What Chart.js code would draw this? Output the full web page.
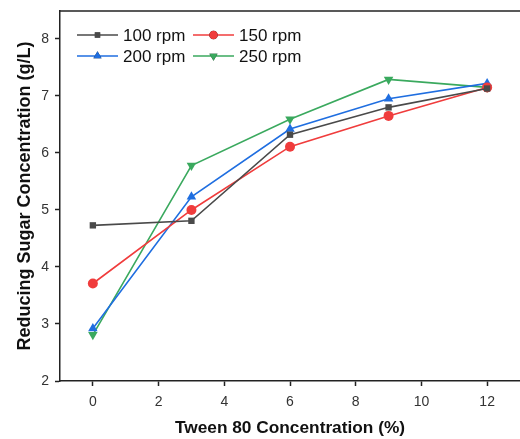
<!DOCTYPE html>
<html lang="en">
<head>
  <meta charset="UTF-8">
  <title>Reducing sugar vs Tween 80</title>
  <style>
    html, body { margin: 0; padding: 0; background: #fff; overflow: hidden; }
    .container { width: 520px; height: 439px; position: relative; }
    canvas { display: block; }
  </style>
  <script src="https://cdn.jsdelivr.net/npm/chart.js@4/dist/chart.umd.min.js"></script>
</head>
<body>
  <div class="container">
    <canvas id="myChart" width="520" height="439"></canvas>
  </div>

  <script>
    // Dados
    const tween = [0, 3, 6, 9, 12];
    const rpm100 = [4.73, 4.81, 6.32, 6.80, 7.13];
    const rpm150 = [3.71, 5.00, 6.11, 6.65, 7.15];
    const rpm200 = [2.92, 5.23, 6.42, 6.95, 7.22];
    const rpm250 = [2.81, 5.78, 6.59, 7.29, 7.15];
    const seriesNames = ["100 rpm", "150 rpm", "200 rpm", "250 rpm"];
    const xTicks = [0, 2, 4, 6, 8, 10, 12];
    const yTicks = [2, 3, 4, 5, 6, 7, 8];

    const colors = ["#4a4a4a", "#f03c3c", "#1f6ee0", "#3aa95e"];
    const markers = ["rect", "circle", "triangle", "triangle"];
    const rotations = [0, 0, 0, 180];
    const radii = [4.5, 5, 5.5, 5.5];

    const toPoints = (vals) => vals.map((v, i) => ({ x: tween[i], y: v }));

    const datasets = [rpm100, rpm150, rpm200, rpm250].map((vals, i) => ({
      label: seriesNames[i],
      data: toPoints(vals),
      borderColor: colors[i],
      backgroundColor: colors[i],
      borderWidth: 1.6,
      pointStyle: markers[i],
      rotation: rotations[i],
      pointRadius: radii[i],
      pointBorderWidth: 0,
      tension: 0,
      clip: false,
    }));

    // zera os paddings automáticos dos eixos
    const noPad = (s) => {
      s.paddingLeft = 0;
      s.paddingRight = 0;
      s.paddingTop = 0;
      s.paddingBottom = 0;
    };

    // legenda desenhada à mão: linha com marcador no meio, 2 colunas
    const customLegend = {
      id: "customLegend",
      afterDraw(chart) {
        const c = chart.ctx;
        const cols = [77, 193];
        const rows = [35, 56];
        c.save();
        datasets.forEach((ds, i) => {
          const x0 = cols[i % 2];
          const y = rows[Math.floor(i / 2)];
          c.strokeStyle = ds.borderColor;
          c.lineWidth = 1.6;
          c.beginPath();
          c.moveTo(x0, y);
          c.lineTo(x0 + 41, y);
          c.stroke();
          Chart.helpers.drawPoint(c, {
            pointStyle: ds.pointStyle,
            rotation: ds.rotation,
            radius: ds.pointRadius * 0.85,
            borderWidth: 0,
          }, x0 + 20.5, y);
          c.fillStyle = ds.backgroundColor;
          c.fill();
          c.fillStyle = "#111";
          c.font = "17px 'Liberation Sans', Arial, sans-serif";
          c.textBaseline = "middle";
          c.textAlign = "left";
          c.fillText(ds.label, x0 + 46, y + 1);
        });
        // borda superior
        const a = chart.chartArea;
        c.strokeStyle = "#222";
        c.lineWidth = 1.5;
        c.beginPath();
        c.moveTo(a.left, a.top);
        c.lineTo(a.right, a.top);
        c.stroke();
        c.restore();
      },
    };

    const tickFont = { family: "'Liberation Sans', Arial, sans-serif", size: 14 };
    const fam = "'Liberation Sans', Arial, sans-serif";

    new Chart(document.getElementById("myChart"), {
      type: "line",
      data: { datasets },
      options: {
        responsive: false,
        animation: false,
        layout: { autoPadding: false, padding: { top: 11, right: 0, left: 0, bottom: 0 } },
        plugins: {
          legend: { display: false },
          tooltip: { enabled: false },
        },
        scales: {
          x: {
            type: "linear",
            min: -1,
            max: 13,
            afterBuildTicks: (s) => { s.ticks = xTicks.map((v) => ({ value: v })); },
            afterFit: (s) => { s.height = 58; noPad(s); },
            grid: { drawOnChartArea: false, tickLength: 5, tickColor: "#222", tickWidth: 1.5 },
            border: { color: "#222", width: 1.5 },
            ticks: { color: "#333", font: tickFont, padding: 8 },
            title: { display: true, text: "Tween 80 Concentration (%)", color: "#111", font: { family: fam, size: 17.3, weight: "bold" }, padding: { top: 4, bottom: 0 } },
          },
          y: {
            min: 2,
            max: 8.49,
            afterBuildTicks: (s) => { s.ticks = yTicks.map((v) => ({ value: v })); },
            afterFit: (s) => { s.width = 60; noPad(s); },
            grid: { drawOnChartArea: false, tickLength: 5, tickColor: "#222", tickWidth: 1.5 },
            border: { color: "#222", width: 1.5 },
            ticks: { color: "#333", font: tickFont, padding: 6 },
            title: { display: true, text: "Reducing Sugar Concentration (g/L)", color: "#111", font: { family: fam, size: 18, weight: "bold" }, padding: { top: 14, bottom: 0 } },
          },
        },
      },
      plugins: [customLegend],
    });
  </script>
</body>
</html>
